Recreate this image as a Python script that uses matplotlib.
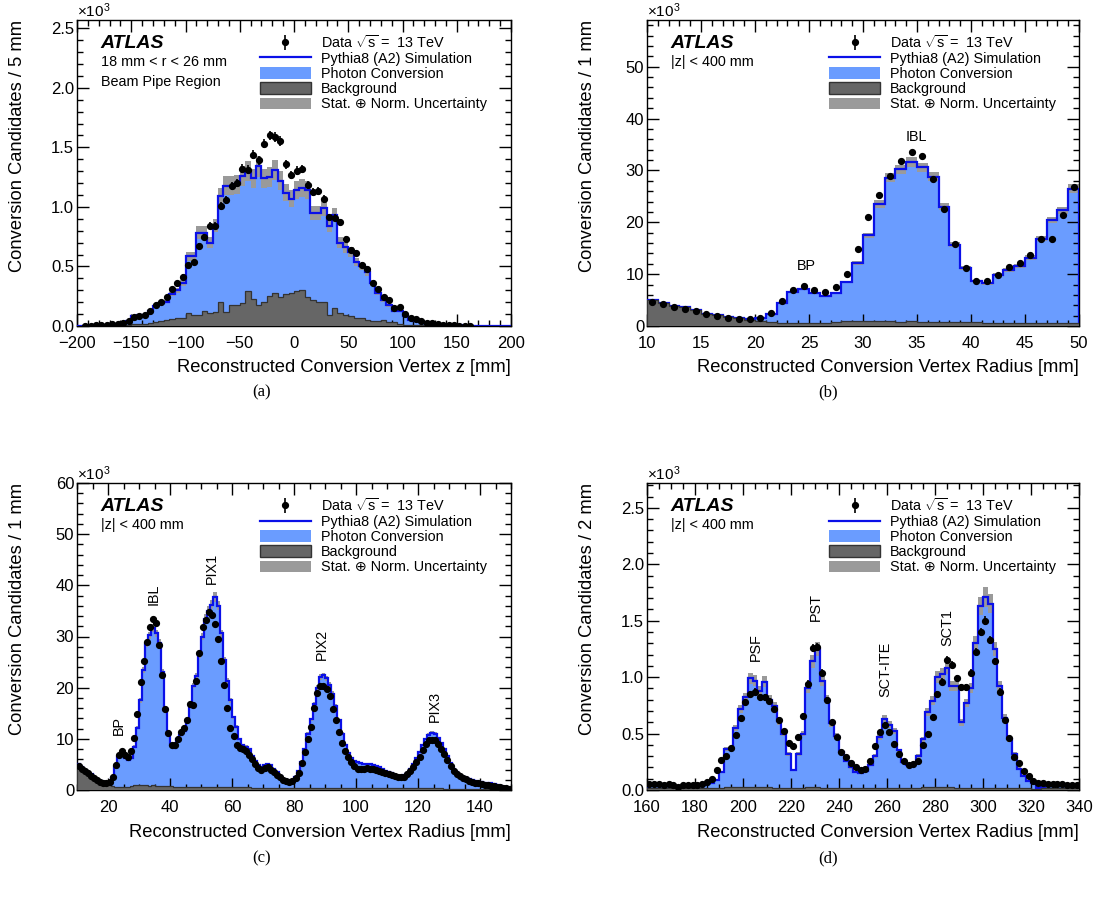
import numpy as np
import matplotlib
matplotlib.use('Agg')
import matplotlib.pyplot as plt
from matplotlib.patches import Patch
from matplotlib.lines import Line2D
from matplotlib.ticker import MultipleLocator, FormatStrFormatter

plt.rcParams['font.family'] = ['Liberation Sans', 'DejaVu Sans']
plt.rcParams['mathtext.fontset'] = 'custom'
plt.rcParams['mathtext.rm'] = 'Liberation Sans'
plt.rcParams['mathtext.it'] = 'Liberation Sans'

# ---------------- data (all values in units of 10^3) ----------------
# (a) z distribution, 5 mm bins from -200 to 200
z_edges = np.arange(-200, 205, 5)
z_data = [0.0, 0.003, 0.003, 0.006, 0.008, 0.012, 0.017, 0.02, 0.026, 0.045,
          0.075, 0.084, 0.092, 0.126, 0.175, 0.198, 0.244, 0.312, 0.357, 0.414,
          0.51, 0.539, 0.674, 0.748, 0.842, 0.842, 1.007, 1.058, 1.176, 1.198,
          1.322, 1.314, 1.437, 1.39, 1.532, 1.6, 1.586, 1.553, 1.357, 1.27,
          1.305, 1.318, 1.184, 1.126, 1.137, 1.066, 0.912, 0.911, 0.872, 0.73,
          0.64, 0.614, 0.514, 0.48, 0.36, 0.31, 0.246, 0.216, 0.153, 0.163,
          0.1, 0.067, 0.056, 0.038, 0.028, 0.022, 0.017, 0.01, 0.008, 0.006,
          0.004, 0.003, 0.002, 0.0, 0.0, 0.0, 0.0, 0.0, 0.0, 0.0]
z_mc = [0.001, 0.002, 0.003, 0.005, 0.008, 0.012, 0.016, 0.02, 0.028, 0.04,
        0.085, 0.09, 0.095, 0.13, 0.165, 0.19, 0.205, 0.27, 0.3, 0.36,
        0.585, 0.585, 0.785, 0.785, 0.70, 0.84, 1.09, 1.18, 1.18, 1.19,
        1.26, 1.30, 1.24, 1.34, 1.24, 1.25, 1.31, 1.22, 1.12, 1.07,
        1.14, 1.16, 1.14, 0.95, 0.95, 0.99, 0.84, 0.93, 0.70, 0.66,
        0.62, 0.54, 0.50, 0.45, 0.36, 0.28, 0.22, 0.175, 0.13, 0.13,
        0.08, 0.05, 0.045, 0.035, 0.028, 0.02, 0.016, 0.012, 0.009, 0.007,
        0.005, 0.004, 0.003, 0.002, 0.002, 0.001, 0.001, 0.001, 0.001, 0.001]
z_bkg = [0.0, 0.0, 0.0, 0.0, 0.002, 0.003, 0.004, 0.005, 0.006, 0.008,
         0.015, 0.02, 0.02, 0.025, 0.03, 0.045, 0.05, 0.06, 0.065, 0.07,
         0.105, 0.095, 0.09, 0.13, 0.105, 0.12, 0.2, 0.12, 0.175, 0.18,
         0.19, 0.29, 0.23, 0.175, 0.2, 0.25, 0.28, 0.24, 0.27, 0.28,
         0.29, 0.3, 0.245, 0.22, 0.2, 0.2, 0.09, 0.15, 0.105, 0.09,
         0.08, 0.07, 0.065, 0.05, 0.045, 0.04, 0.05, 0.03, 0.035, 0.02,
         0.01, 0.01, 0.008, 0.006, 0.005, 0.004, 0.003, 0.002, 0.002, 0.001,
         0.0, 0.0, 0.0, 0.0, 0.0, 0.0, 0.0, 0.0, 0.0, 0.0]

# (b) and (c) radius, 1 mm bins from 10 to 150
r1_edges = np.arange(10, 151, 1)
r1_data = [4.7, 4.2, 3.7, 3.3, 2.8, 2.3, 1.9, 1.6, 1.4, 1.3,
           1.5, 2.6, 4.9, 6.9, 7.7, 6.9, 6.5, 7.6, 10.1, 14.8,
           21.1, 25.2, 28.9, 31.8, 33.5, 32.7, 28.4, 22.5, 15.9, 11.2,
           8.7, 8.7, 9.9, 11.4, 12.1, 13.7, 16.8, 16.7, 21.4, 26.8,
           31.8, 33.3, 34.8, 34.2, 32.5, 29.5, 25.2, 20.6, 16.0, 12.1,
           10.5, 8.7, 8.2, 8.0, 7.6, 6.9, 6.0, 5.1, 4.3, 4.0,
           4.3, 4.4, 4.0, 3.5, 3.0, 2.5, 2.0, 1.7, 1.6, 1.8,
           2.3, 3.4, 5.2, 7.4, 10.0, 12.4, 16.0, 19.0, 20.4, 20.3,
           19.7, 18.3, 15.9, 13.7, 11.3, 9.1, 7.6, 6.4, 5.4, 4.6,
           4.2, 4.1, 4.2, 4.3, 4.2, 4.1, 4.0, 3.8, 3.6, 3.4,
           3.1, 2.9, 2.7, 2.5, 2.5, 2.6, 3.1, 3.8, 4.4, 5.4,
           6.4, 7.8, 9.0, 9.7, 9.8, 9.7, 9.0, 8.0, 7.1, 5.8,
           4.7, 3.8, 3.1, 2.7, 2.4, 2.1, 1.8, 1.6, 1.4, 1.3,
           1.1, 1.0, 0.9, 0.8, 0.7, 0.6, 0.5, 0.4, 0.3, 0.2]
r1_mc = [5.0, 4.4, 3.9, 3.6, 3.1, 2.4, 2.05, 1.7, 1.5, 1.3,
         1.5, 2.3, 4.4, 6.5, 7.1, 6.3, 5.8, 6.3, 8.5, 12.2,
         17.5, 23.5, 28.6, 30.2, 31.6, 30.6, 28.8, 23.0, 15.7, 11.2,
         8.7, 8.2, 9.9, 10.8, 11.6, 13.2, 16.8, 20.4, 22.3, 26.5,
         30.0, 33.5, 35.0, 36.2, 37.7, 36.0, 30.6, 25.4, 21.4, 17.5,
         14.2, 12.3, 10.0, 8.7, 8.5, 8.0, 6.6, 5.6, 4.9, 4.4,
         4.9, 5.1, 4.8, 4.2, 3.5, 2.8, 2.2, 1.9, 1.8, 2.0,
         2.6, 3.8, 5.5, 8.0, 11.0, 13.8, 16.8, 20.0, 22.1, 22.4,
         21.8, 20.6, 18.8, 16.4, 13.6, 11.0, 8.8, 7.2, 6.2, 5.6,
         5.4, 5.2, 5.1, 5.1, 5.0, 4.9, 4.7, 4.4, 4.1, 3.8,
         3.5, 3.3, 3.0, 2.8, 2.8, 2.9, 3.4, 4.2, 5.0, 6.2,
         7.4, 8.8, 10.0, 10.8, 11.2, 11.0, 10.2, 9.2, 8.0, 6.6,
         5.2, 4.2, 3.5, 3.0, 2.6, 2.3, 2.1, 1.9, 1.7, 1.6,
         1.5, 1.4, 1.4, 1.3, 1.2, 0.9, 0.7, 0.5, 0.4, 0.3]
r1_bkg = [5.0, 4.4, 3.9, 3.6, 3.1, 2.4, 2.05, 1.7, 1.5, 1.25,
          1.0, 0.8, 0.6, 0.5, 0.5, 0.55, 0.6, 0.7, 0.9, 1.0,
          1.0, 0.9, 0.9, 0.8, 0.9, 0.8, 0.8, 0.8, 0.7, 0.7,
          0.7, 0.6, 0.6, 0.6, 0.6, 0.6, 0.6, 0.6, 0.6, 0.6,
          0.6, 0.6, 0.6, 0.6, 0.55, 0.55, 0.55, 0.55, 0.5, 0.5,
          0.5, 0.5, 0.5, 0.5, 0.5, 0.5, 0.45, 0.45, 0.45, 0.45,
          0.45, 0.45, 0.45, 0.4, 0.4, 0.4, 0.4, 0.4, 0.4, 0.4,
          0.4, 0.4, 0.4, 0.4, 0.4, 0.4, 0.4, 0.4, 0.4, 0.4,
          0.4, 0.4, 0.4, 0.35, 0.35, 0.35, 0.35, 0.35, 0.35, 0.35,
          0.35, 0.35, 0.35, 0.35, 0.35, 0.35, 0.35, 0.3, 0.3, 0.3,
          0.3, 0.3, 0.3, 0.3, 0.3, 0.3, 0.3, 0.3, 0.3, 0.3,
          0.3, 0.3, 0.3, 0.3, 0.3, 0.3, 0.3, 0.3, 0.25, 0.25,
          0.25, 0.25, 0.25, 0.25, 0.25, 0.2, 0.2, 0.2, 0.2, 0.2,
          0.2, 0.2, 0.2, 0.2, 0.15, 0.15, 0.15, 0.1, 0.1, 0.1]

# (d) radius, 2 mm bins from 160 to 340
r2_edges = np.arange(160, 342, 2)
r2_data = [0.053, 0.053, 0.05, 0.04, 0.053, 0.04, 0.03, 0.04, 0.047, 0.04,
           0.047, 0.053, 0.068, 0.10, 0.18, 0.27, 0.30, 0.37, 0.49, 0.64,
           0.78, 0.85, 0.87, 0.82, 0.82, 0.79, 0.72, 0.62, 0.52, 0.42,
           0.39, 0.47, 0.66, 0.94, 1.26, 1.27, 1.04, 0.80, 0.60, 0.47,
           0.34, 0.29, 0.24, 0.20, 0.18, 0.19, 0.26, 0.39, 0.51, 0.58,
           0.51, 0.41, 0.32, 0.26, 0.22, 0.23, 0.26, 0.40, 0.50, 0.65,
           0.85, 0.96, 1.15, 1.11, 0.99, 0.91, 0.91, 1.04, 1.22, 1.40,
           1.50, 1.33, 1.14, 0.87, 0.62, 0.46, 0.29, 0.24, 0.17, 0.12,
           0.08, 0.06, 0.06, 0.055, 0.05, 0.05, 0.05, 0.045, 0.045, 0.04]
r2_mc = [0.04, 0.04, 0.035, 0.035, 0.035, 0.03, 0.03, 0.03, 0.03, 0.03,
         0.035, 0.04, 0.05, 0.06, 0.09, 0.16, 0.36, 0.36, 0.55, 0.72,
         0.82, 0.99, 0.97, 0.88, 0.96, 0.80, 0.74, 0.61, 0.50, 0.32,
         0.18, 0.32, 0.50, 0.90, 1.14, 1.25, 0.97, 0.80, 0.59, 0.48,
         0.34, 0.26, 0.20, 0.16, 0.15, 0.17, 0.22, 0.30, 0.47, 0.63,
         0.58, 0.52, 0.35, 0.25, 0.22, 0.23, 0.30, 0.45, 0.69, 0.79,
         1.0, 1.03, 1.08, 0.92, 0.92, 0.60, 0.77, 0.90, 1.30, 1.63,
         1.71, 1.65, 1.25, 0.92, 0.64, 0.45, 0.32, 0.19, 0.12, 0.08,
         0.06, 0.015, 0.03, 0.035, 0.04, 0.04, 0.035, 0.035, 0.03, 0.03]
r2_bkg = [0.015, 0.015, 0.015, 0.015, 0.015, 0.015, 0.015, 0.015, 0.015, 0.015,
          0.015, 0.015, 0.015, 0.02, 0.02, 0.02, 0.025, 0.025, 0.025, 0.03,
          0.03, 0.03, 0.03, 0.025, 0.025, 0.025, 0.02, 0.02, 0.02, 0.02,
          0.02, 0.02, 0.02, 0.025, 0.025, 0.025, 0.02, 0.02, 0.02, 0.02,
          0.02, 0.02, 0.02, 0.02, 0.02, 0.02, 0.02, 0.02, 0.02, 0.02,
          0.02, 0.02, 0.02, 0.02, 0.02, 0.02, 0.02, 0.025, 0.025, 0.025,
          0.03, 0.03, 0.025, 0.025, 0.02, 0.02, 0.02, 0.02, 0.02, 0.02,
          0.02, 0.02, 0.02, 0.02, 0.02, 0.015, 0.015, 0.015, 0.015, 0.015,
          0.01, 0.01, 0.015, 0.015, 0.015, 0.015, 0.015, 0.015, 0.015, 0.015]

# ---------------- style ----------------
W, H = 1105, 900
C_CONV = '#6a9cff'
C_LINE = '#0a10e8'
C_BKG = '#666666'
C_UNC = '#9a9a9a'
TICK_FS = 12
TITLE_FS = 13.2
LEG_FS = 10.4

fig = plt.figure(figsize=(W / 100, H / 100), dpi=100)


def make_axes(left, top, width, height):
    return fig.add_axes([left / W, 1 - (top + height) / H, width / W, height / H])


def draw_panel(ax, edges, data, mc, bkg, unc, xlim, ylim, xmaj, xmin, ymaj, ymin,
               yfmt, xlabel, ylabel, lines):
    edges = np.asarray(edges, float)
    data = np.asarray(data, float)
    mc = np.asarray(mc, float)
    bkg = np.asarray(bkg, float)
    centers = 0.5 * (edges[1:] + edges[:-1])

    ax.stairs(mc, edges, fill=True, color=C_CONV, lw=0, zorder=1)
    ax.stairs(mc * (1 + unc), edges, baseline=mc * (1 - unc), fill=True,
              color=C_UNC, lw=0, zorder=2)
    ax.stairs(mc, edges, color=C_LINE, lw=1.6, zorder=3)
    ax.stairs(bkg, edges, fill=True, color=C_BKG, lw=0, zorder=4)
    ax.stairs(bkg, edges, color='#333333', lw=0.9, zorder=4.5)

    ok = data > 0
    err = np.sqrt(data[ok] * 1000.0) / 1000.0
    eb = ax.errorbar(centers[ok], data[ok], yerr=err, fmt='o', ms=4.2, color='black',
                     elinewidth=1.2, capsize=0, zorder=6)

    ax.set_xlim(*xlim)
    ax.set_ylim(*ylim)
    ax.xaxis.set_major_locator(MultipleLocator(xmaj))
    ax.xaxis.set_minor_locator(MultipleLocator(xmin))
    ax.yaxis.set_major_locator(MultipleLocator(ymaj))
    ax.yaxis.set_minor_locator(MultipleLocator(ymin))
    ax.yaxis.set_major_formatter(FormatStrFormatter(yfmt))
    ax.tick_params(which='both', direction='in', top=True, right=True,
                   labelsize=TICK_FS, width=1.0)
    ax.tick_params(which='major', length=8.5)
    ax.tick_params(which='minor', length=4.2)
    ax.tick_params(axis='x', pad=7)
    ax.tick_params(axis='y', pad=2)
    for sp in ax.spines.values():
        sp.set_linewidth(1.0)

    ax.text(1.0, -0.137, xlabel, transform=ax.transAxes, ha='right', va='center',
            fontsize=TITLE_FS)
    ax.text(-0.137, 1.0, ylabel, transform=ax.transAxes, ha='center', va='top',
            rotation=90, fontsize=TITLE_FS)
    ax.text(0.0, 1.0, '\u00d710$^{3}$', transform=ax.transAxes, ha='left',
            va='bottom', fontsize=11)

    ax.text(0.055, 0.91, 'ATLAS', transform=ax.transAxes, fontsize=14,
            fontweight='bold', fontstyle='italic', va='baseline')
    for i, s in enumerate(lines):
        ax.text(0.055, 0.862 - 0.064 * i, s, transform=ax.transAxes, fontsize=LEG_FS,
                va='center')

    handles = [eb,
               Line2D([], [], color=C_LINE, lw=1.6),
               Patch(facecolor=C_CONV, edgecolor='none'),
               Patch(facecolor=C_BKG, edgecolor='#333333', lw=1.0),
               Patch(facecolor=C_UNC, edgecolor='none')]
    labels = [r'Data $\sqrt{s}$ =  13 TeV', 'Pythia8 (A2) Simulation',
              'Photon Conversion', 'Background', 'Stat. \u2295 Norm. Uncertainty']
    ax.legend(handles, labels, loc='upper left', bbox_to_anchor=(0.422, 0.955),
              frameon=False, fontsize=LEG_FS, handlelength=3.5, handleheight=0.85,
              handletextpad=0.72, labelspacing=0.08, borderpad=0, borderaxespad=0)


ax_a = make_axes(77, 20, 434, 306)
draw_panel(ax_a, z_edges, z_data, z_mc, z_bkg, 0.065, (-200, 200), (0, 2.57),
           50, 10, 0.5, 0.1, '%.1f', 'Reconstructed Conversion Vertex z [mm]',
           'Conversion Candidates / 5 mm', ['18 mm < r < 26 mm', 'Beam Pipe Region'])

ax_b = make_axes(647, 20, 432, 306)
draw_panel(ax_b, r1_edges[:41], r1_data[:40], r1_mc[:40], r1_bkg[:40], 0.03, (10, 50),
           (0, 59), 5, 1, 10, 2, '%d', 'Reconstructed Conversion Vertex Radius [mm]',
           'Conversion Candidates / 1 mm', ['|z| < 400 mm'])
ax_b.text(24.8, 11.5, 'BP', ha='center', va='center', fontsize=LEG_FS)
ax_b.text(34.9, 36.5, 'IBL', ha='center', va='center', fontsize=LEG_FS)

ax_c = make_axes(77, 483, 434, 307)
draw_panel(ax_c, r1_edges, r1_data, r1_mc, r1_bkg, 0.025, (10, 150), (0, 60),
           20, 5, 10, 2, '%d', 'Reconstructed Conversion Vertex Radius [mm]',
           'Conversion Candidates / 1 mm', ['|z| < 400 mm'])
for name, x, y in [('BP', 23.6, 12.7), ('IBL', 34.6, 38.3), ('PIX1', 53.4, 43.4),
                   ('PIX2', 89.1, 28.4), ('PIX3', 125.3, 16.3)]:
    ax_c.text(x, y, name, rotation=90, ha='center', va='center', fontsize=LEG_FS)

ax_d = make_axes(647, 483, 432, 307)
draw_panel(ax_d, r2_edges, r2_data, r2_mc, r2_bkg, 0.05, (160, 340), (0, 2.72),
           20, 5, 0.5, 0.1, '%.1f', 'Reconstructed Conversion Vertex Radius [mm]',
           'Conversion Candidates / 2 mm', ['|z| < 400 mm'])
for name, x, y in [('PSF', 205.4, 1.27), ('PST', 230.5, 1.62), ('SCT-ITE', 259.2, 1.07),
                   ('SCT1', 285, 1.44)]:
    ax_d.text(x, y, name, rotation=90, ha='center', va='center', fontsize=LEG_FS)

for lab, x, y in [('(a)', 262, 392), ('(b)', 828, 392), ('(c)', 262, 858), ('(d)', 828, 858)]:
    fig.text(x / W, 1 - y / H, lab, ha='center', va='center', fontsize=12,
             family='Liberation Serif')

fig.savefig('out.png', dpi=100)
